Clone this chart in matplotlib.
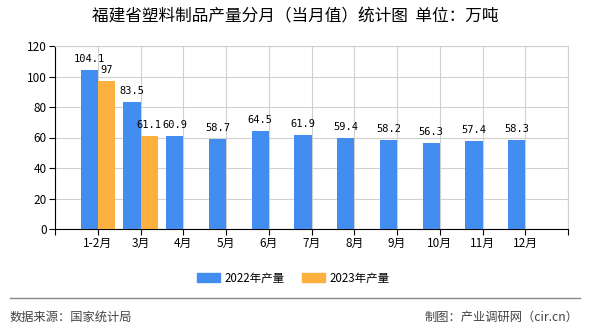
import matplotlib

matplotlib.use("Agg")
import matplotlib.pyplot as plt
import numpy as np
from matplotlib.lines import Line2D
from matplotlib.patches import Patch

plt.rcParams["font.family"] = ["Noto Sans CJK SC", "DejaVu Sans"]

months = ["1-2月", "3月", "4月", "5月", "6月", "7月", "8月", "9月", "10月", "11月", "12月"]
prod_2022 = [104.1, 83.5, 60.9, 58.7, 64.5, 61.9, 59.4, 58.2, 56.3, 57.4, 58.3]
prod_2023 = [97, 61.1]
yticks = [0, 20, 40, 60, 80, 100, 120]

blue = "#448df0"
orange = "#fbb03f"

fig = plt.figure(figsize=(5.9, 3.3), dpi=100)
ax = fig.add_axes([55 / 590, 101 / 330, 513 / 590, 183 / 330])

x = np.arange(len(months))
w = 0.4
ax.bar(x - w / 2, prod_2022, width=w, color=blue, zorder=3)
x23 = x[:len(prod_2023)]
ax.bar(x23 + w / 2, prod_2023, width=w, color=orange, zorder=3)

for xi, v in zip(x, prod_2022):
    ax.text(xi - w / 2, v + 4, f"{v:g}", ha="center", va="bottom", fontsize=7.5,
            family=["DejaVu Sans Mono"])
for xi, v in zip(x23, prod_2023):
    ax.text(xi + w / 2, v + 4, f"{v:g}", ha="center", va="bottom", fontsize=7.5,
            family=["DejaVu Sans Mono"])

ax.set_xlim(-1, 11)
ax.set_ylim(0, 120)
ax.set_yticks(yticks)
ax.set_xticks(np.arange(-1, 12))
ax.set_xticklabels([""] + months + [""])
ax.tick_params(axis="both", labelsize=8.5, length=4, width=0.8, color="black", pad=2)
ax.grid(True, color="#d0d0d0", lw=0.8, zorder=0)
ax.set_axisbelow(True)
for s in ["top", "right"]:
    ax.spines[s].set_color("#d0d0d0")
for s in ["left", "bottom"]:
    ax.spines[s].set_color("black")
    ax.spines[s].set_linewidth(0.8)

fig.text(0.5, 1 - 17 / 330, "福建省塑料制品产量分月（当月值）统计图  单位：万吨",
         ha="center", va="center", fontsize=12)

handles = [Patch(color=blue, label="2022年产量"), Patch(color=orange, label="2023年产量")]
fig.legend(handles=handles, loc="center", bbox_to_anchor=(293 / 590, 1 - 278 / 330), ncol=2,
           frameon=False, fontsize=8.3, handlelength=2.0, handleheight=0.8,
           columnspacing=1.5, handletextpad=0.4)

fig.add_artist(Line2D([10 / 590, 580 / 590], [1 - 298 / 330] * 2, color="#888888", lw=1))
fig.text(10 / 590, 1 - 317 / 330, "数据来源：国家统计局", ha="left", va="center",
         fontsize=8.8, color="#444444")
fig.text(578 / 590, 1 - 317 / 330, "制图：产业调研网（cir.cn）", ha="right", va="center",
         fontsize=8.8, color="#444444")

fig.savefig("out.png", dpi=100)
